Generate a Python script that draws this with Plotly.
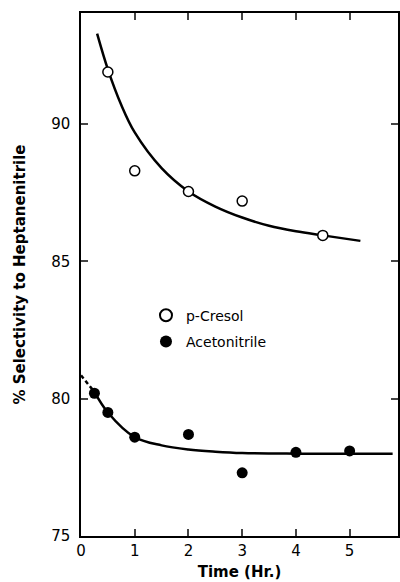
import plotly.graph_objects as go

# Measured points
cresol_t = [0.5, 1.0, 2.0, 3.0, 4.5]
cresol_sel = [91.9, 88.3, 87.55, 87.2, 85.95]

aceto_t = [0.25, 0.5, 1.0, 2.0, 3.0, 4.0, 5.0]
aceto_sel = [80.2, 79.5, 78.6, 78.7, 77.3, 78.05, 78.1]

# Hand-drawn trend curves
cresol_curve_t = [0.3, 0.5, 0.75, 1.0, 1.5, 2.0, 2.5, 3.0, 3.5, 4.0, 4.5, 5.2]
cresol_curve_sel = [93.3, 92.0, 90.7, 89.7, 88.4, 87.55, 87.0, 86.6, 86.3, 86.1, 85.95, 85.75]

aceto_dash_t = [0.0, 0.25]
aceto_dash_sel = [80.85, 80.25]
aceto_curve_t = [0.25, 0.5, 1.0, 1.5, 2.0, 2.5, 3.0, 4.0, 5.0, 5.8]
aceto_curve_sel = [80.25, 79.5, 78.6, 78.3, 78.15, 78.07, 78.02, 78.0, 78.0, 78.0]

x_ticks = [0, 1, 2, 3, 4, 5]
y_ticks = [75, 80, 85, 90]

FONT = "DejaVu Sans, Liberation Sans, sans-serif"

fig = go.Figure()
fig.add_trace(go.Scatter(x=cresol_curve_t, y=cresol_curve_sel, mode="lines",
                         line=dict(color="black", width=2.5, shape="spline"),
                         showlegend=False, hoverinfo="skip"))
fig.add_trace(go.Scatter(x=aceto_dash_t, y=aceto_dash_sel, mode="lines",
                         line=dict(color="black", width=2.5, dash="4px,3px"),
                         showlegend=False, hoverinfo="skip"))
fig.add_trace(go.Scatter(x=aceto_curve_t, y=aceto_curve_sel, mode="lines",
                         line=dict(color="black", width=2.5, shape="spline"),
                         showlegend=False, hoverinfo="skip"))
fig.add_trace(go.Scatter(x=cresol_t, y=cresol_sel, mode="markers", name="p-Cresol",
                         legendgroup="a",
                         marker=dict(symbol="circle", size=10, color="white",
                                     line=dict(color="black", width=1.5))))
fig.add_trace(go.Scatter(x=aceto_t, y=aceto_sel, mode="markers", name="Acetonitrile",
                         legendgroup="b",
                         marker=dict(symbol="circle", size=11, color="black",
                                     line=dict(color="black", width=0))))

fig.update_layout(
    width=400, height=582,
    margin=dict(l=81, r=0, t=13, b=46),
    plot_bgcolor="white", paper_bgcolor="white",
    font=dict(family=FONT, color="black", size=15),
    legend=dict(x=0.205, y=0.452, xanchor="left", yanchor="top",
                bgcolor="rgba(0,0,0,0)", font=dict(size=14),
                itemsizing="constant", tracegroupgap=5, traceorder="grouped"),
    xaxis=dict(range=[0, 5.9], tickvals=x_ticks, ticks="inside", ticklen=7,
               tickwidth=1.5, linecolor="black", linewidth=1.5, mirror="ticks",
               showgrid=False, zeroline=False, tickfont=dict(size=15),
               title=dict(text="Time (Hr.)", font=dict(size=15, weight="bold"), standoff=8)),
    yaxis=dict(range=[75, 94.05], tickvals=y_ticks, ticks="inside", ticklen=7,
               tickwidth=1.5, linecolor="black", linewidth=1.5, mirror="ticks",
               showgrid=False, zeroline=False, tickfont=dict(size=15),
               ticklabelstandoff=6,
               title=dict(text="% Selectivity to Heptanenitrile",
                          font=dict(size=15, weight="bold"), standoff=22)),
)

fig.write_html("out.html")
